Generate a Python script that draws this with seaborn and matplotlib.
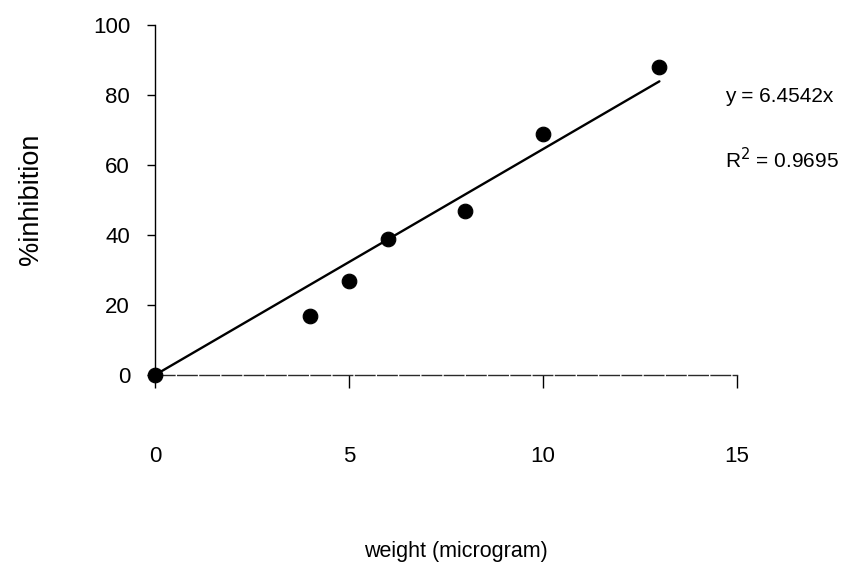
import numpy as np
import pandas as pd
import matplotlib
matplotlib.use("Agg")
import matplotlib.pyplot as plt
import seaborn as sns

# data
weight = [0, 4, 5, 6, 8, 10, 13]
inhibition = [0, 17, 27, 39, 47, 69, 88]
slope = 6.4542
r_squared = 0.9695
x_ticks = [0, 5, 10, 15]
y_ticks = [0, 20, 40, 60, 80, 100]

sns.set_theme(style="white")
plt.rcParams['font.family'] = ['Liberation Sans', 'DejaVu Sans']

W, H = 847, 579
fig = plt.figure(figsize=(W / 100, H / 100), dpi=100)
x0, x1 = 155, 737
y0, y1 = 375, 25
ax = fig.add_axes([x0 / W, 1 - y0 / H, (x1 - x0) / W, (y0 - y1) / H])

df = pd.DataFrame({"weight": weight, "inhibition": inhibition})
line_x = np.array([min(weight), max(weight)])
fit = pd.DataFrame({"x": line_x, "y": slope * line_x})

sns.lineplot(data=fit, x="x", y="y", ax=ax, color="black", linewidth=1.7)
sns.scatterplot(data=df, x="weight", y="inhibition", ax=ax, color="black",
                s=110, edgecolor="black", zorder=5, clip_on=False)

ax.set_xlim(0, 15)
ax.set_ylim(0, 100)
ax.set_xticks(x_ticks)
ax.set_yticks(y_ticks)
ax.set_xticklabels([str(t) for t in x_ticks])
ax.set_yticklabels([str(t) for t in y_ticks])
ax.set_xlabel("")
ax.set_ylabel("")

for s in ["top", "right"]:
    ax.spines[s].set_visible(False)
ax.spines["left"].set_color("black")
ax.spines["left"].set_linewidth(1.0)
ax.spines["bottom"].set_color("#2a2a2a")
ax.spines["bottom"].set_linewidth(1.0)
ax.spines["bottom"].set_linestyle((0, (14, 2)))

ax.tick_params(axis="x", direction="out", length=9, width=1, color="black",
               pad=42, labelsize=16, labelcolor="black", bottom=True)
ax.tick_params(axis="y", direction="out", length=6, width=1, color="black",
               pad=12, labelsize=16, labelcolor="black", left=True)

fig.text(456 / W, 1 - 552 / H, "weight (microgram)", ha="center", va="center",
         fontsize=15.5, color="black")
fig.text(31 / W, 1 - 199 / H, "%inhibition", ha="center", va="center",
         rotation=90, fontsize=19.5, color="black")

fig.text(725 / W, 1 - 97 / H, f"y = {slope}x", ha="left", va="center",
         fontsize=15, color="black")
fig.text(725 / W, 1 - 160 / H, r"R$^{2}$ = " + f"{r_squared}", ha="left", va="center",
         fontsize=15, color="black")

fig.savefig("out.png", dpi=100, facecolor="white")
